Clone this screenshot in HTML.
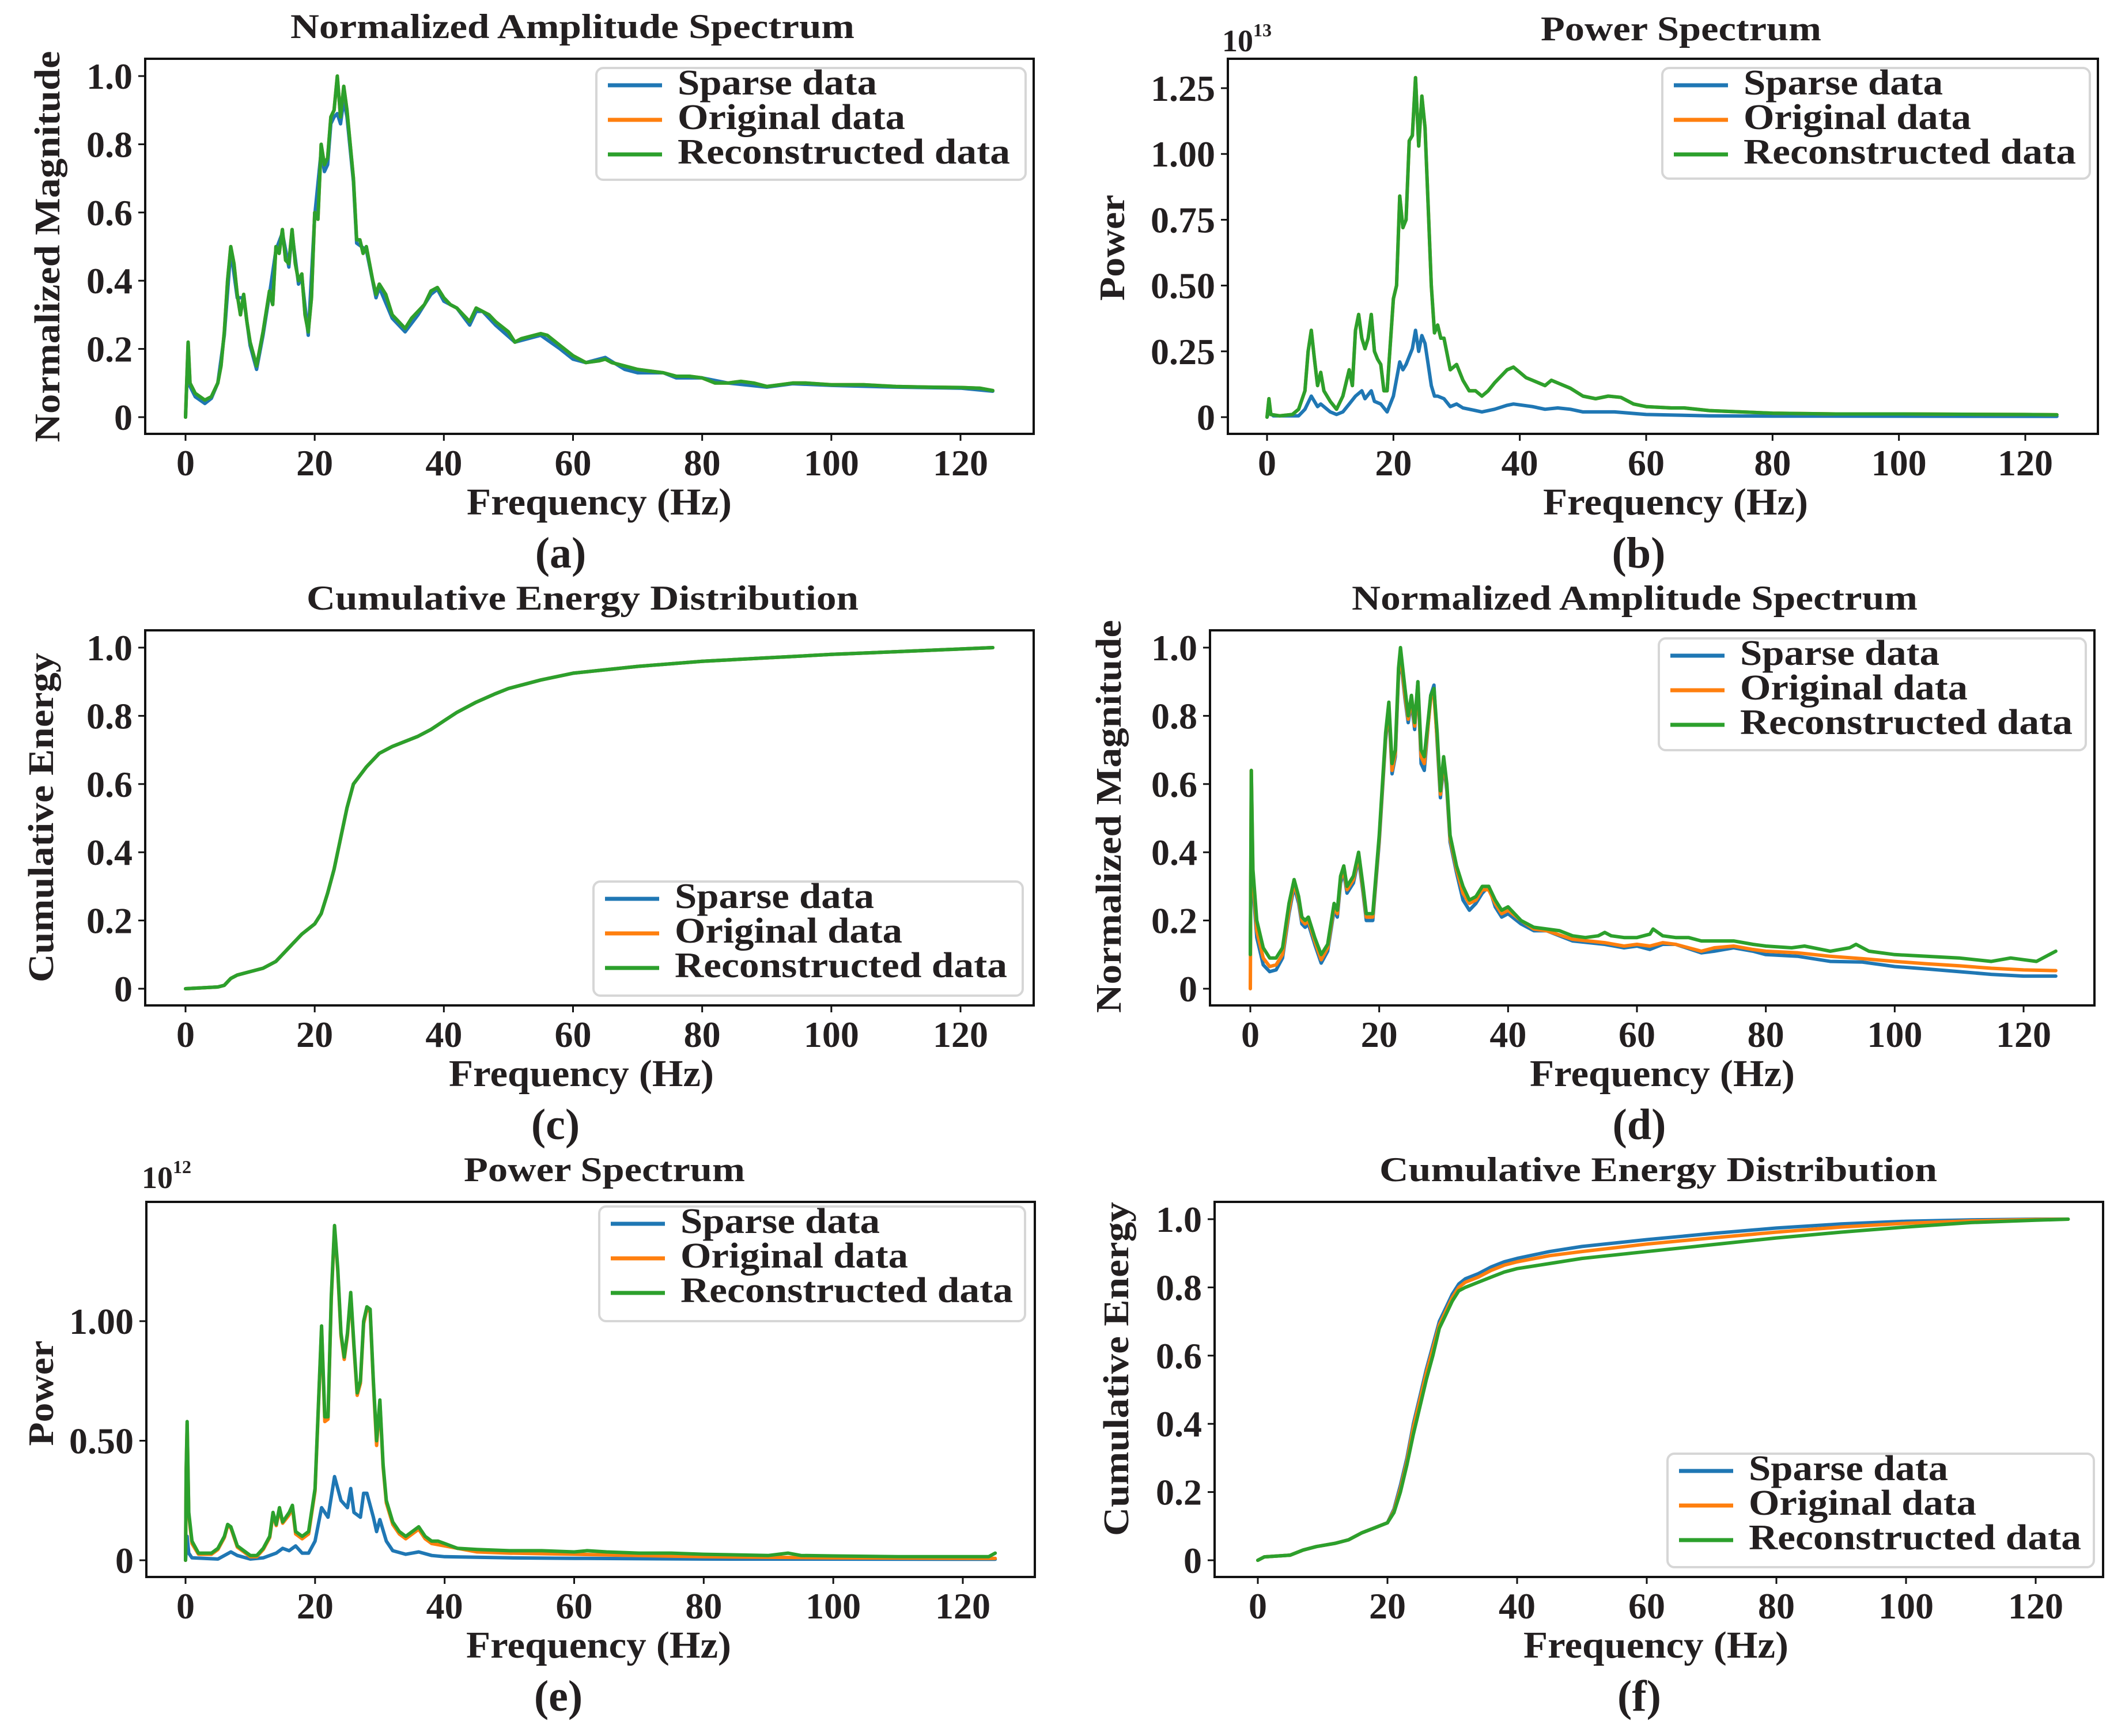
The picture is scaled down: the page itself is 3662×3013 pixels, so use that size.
<!DOCTYPE html>
<html><head><meta charset="utf-8"><title>Spectrum panels</title>
<style>
html,body{margin:0;padding:0;background:#fff;}
svg text{font-family:"Liberation Serif",serif;font-weight:bold;fill:#231f20;}
</style></head>
<body>
<svg id="fig" xmlns="http://www.w3.org/2000/svg" width="3662" height="3008" viewBox="0 0 3662 3008">
<rect x="0" y="0" width="3662" height="3008" fill="#fff"/>
</svg>
<script>
// ---------- data (frequency Hz, value) ----------
const aRecon = [[0,0],[0.2,0.11],[0.4,0.22],[0.7,0.1],[1.5,0.07],[3,0.05],[4,0.06],[5,0.1],[5.5,0.15],[6,0.25],[6.5,0.4],[7,0.5],[7.5,0.45],[8,0.36],[8.5,0.3],[9,0.36],[9.5,0.28],[10,0.22],[11,0.15],[11.5,0.2],[12,0.25],[13,0.37],[13.5,0.33],[14,0.5],[14.5,0.48],[15,0.55],[15.5,0.46],[16,0.45],[16.5,0.55],[17,0.45],[17.5,0.4],[18,0.42],[18.5,0.3],[19,0.25],[19.5,0.35],[20,0.6],[20.5,0.58],[21,0.8],[21.5,0.74],[22,0.76],[22.5,0.88],[23,0.9],[23.5,1.0],[24,0.88],[24.5,0.97],[25,0.9],[26,0.7],[26.5,0.52],[27,0.52],[27.5,0.48],[28,0.5],[28.5,0.45],[29,0.4],[29.5,0.36],[30,0.39],[31,0.36],[32,0.3],[33,0.28],[34,0.26],[35,0.29],[36,0.31],[37,0.33],[38,0.37],[39,0.38],[40,0.35],[41,0.33],[42,0.32],[43,0.3],[44,0.28],[45,0.32],[46,0.31],[47,0.3],[48,0.28],[50,0.25],[51,0.22],[52,0.23],[54,0.24],[55,0.245],[56,0.24],[58,0.21],[60,0.18],[62,0.16],[64,0.165],[65,0.17],[66,0.16],[68,0.15],[70,0.14],[72,0.135],[74,0.13],[76,0.12],[78,0.12],[80,0.115],[82,0.1],[84,0.1],[86,0.105],[88,0.1],[90,0.09],[92,0.095],[94,0.1],[96,0.1],[100,0.095],[105,0.095],[110,0.09],[115,0.088],[120,0.087],[123,0.085],[125,0.078]];
const aSparse = [[0,0],[0.2,0.1],[0.4,0.21],[0.7,0.09],[1.5,0.06],[3,0.04],[4,0.055],[5,0.1],[6,0.24],[7,0.49],[8,0.35],[9,0.35],[10,0.21],[11,0.14],[12,0.24],[13,0.36],[14,0.49],[15,0.54],[16,0.44],[16.5,0.54],[17.5,0.39],[18,0.41],[19,0.24],[20,0.59],[21,0.78],[21.5,0.72],[22,0.74],[22.5,0.86],[23,0.88],[23.5,0.89],[24,0.86],[24.5,0.93],[25,0.88],[26,0.69],[26.5,0.51],[28,0.49],[29.5,0.35],[30,0.38],[32,0.29],[34,0.25],[36,0.3],[38,0.36],[39,0.375],[40,0.34],[42,0.32],[44,0.27],[45,0.31],[46,0.31],[48,0.27],[51,0.22],[55,0.24],[58,0.2],[60,0.17],[62,0.16],[65,0.175],[68,0.14],[70,0.13],[74,0.13],[76,0.115],[80,0.115],[84,0.1],[90,0.088],[94,0.098],[100,0.093],[110,0.088],[120,0.085],[125,0.076]];
const aOriginal = aRecon;

const bRecon = [[0,0],[0.3,0.07],[0.6,0.01],[2,0.005],[4,0.01],[5,0.03],[6,0.1],[6.5,0.25],[7,0.33],[7.5,0.22],[8,0.12],[8.5,0.17],[9,0.1],[10,0.06],[11,0.03],[12,0.08],[13,0.18],[13.5,0.12],[14,0.33],[14.5,0.39],[15,0.3],[15.5,0.26],[16,0.3],[16.5,0.39],[17,0.25],[17.5,0.22],[18,0.2],[18.5,0.1],[19,0.1],[20,0.45],[20.5,0.5],[21,0.84],[21.5,0.72],[22,0.75],[22.5,1.05],[23,1.07],[23.5,1.29],[24,1.03],[24.5,1.22],[25,1.1],[25.5,0.8],[26,0.5],[26.5,0.32],[27,0.35],[27.5,0.3],[28,0.3],[29,0.18],[30,0.2],[31,0.14],[32,0.1],[33,0.1],[34,0.08],[35,0.1],[36,0.13],[38,0.18],[39,0.19],[40,0.17],[41,0.15],[42,0.14],[44,0.12],[45,0.14],[46,0.13],[48,0.11],[50,0.08],[52,0.07],[54,0.08],[56,0.075],[58,0.05],[60,0.04],[64,0.035],[66,0.035],[70,0.025],[75,0.02],[80,0.015],[90,0.012],[100,0.012],[110,0.011],[120,0.01],[125,0.009]];
const bSparse = [[0,0],[0.3,0.02],[1,0.005],[5,0.005],[6,0.03],[7,0.08],[8,0.04],[8.5,0.05],[10,0.02],[11,0.01],[12,0.02],[13,0.05],[14,0.08],[15,0.1],[15.5,0.07],[16.5,0.1],[17,0.06],[18,0.05],[19,0.02],[20,0.08],[21,0.21],[21.5,0.18],[22,0.2],[23,0.26],[23.5,0.33],[24,0.25],[24.5,0.31],[25,0.28],[25.5,0.2],[26,0.12],[26.5,0.08],[27,0.08],[28,0.07],[29,0.04],[30,0.05],[31,0.035],[33,0.025],[34,0.02],[36,0.03],[38,0.045],[39,0.05],[42,0.04],[44,0.03],[46,0.035],[48,0.03],[50,0.02],[55,0.02],[60,0.01],[70,0.005],[80,0.004],[125,0.003]];
const bOriginal = bRecon;

const cRecon = [[0,0],[5,0.005],[6,0.01],[7,0.03],[8,0.04],[10,0.05],[12,0.06],[14,0.08],[16,0.12],[18,0.16],[20,0.19],[21,0.22],[22,0.28],[23,0.35],[24,0.44],[25,0.53],[26,0.6],[28,0.65],[30,0.69],[32,0.71],[34,0.725],[36,0.74],[38,0.76],[40,0.785],[42,0.81],[45,0.84],[48,0.865],[50,0.88],[55,0.905],[60,0.925],[65,0.935],[70,0.945],[80,0.96],[90,0.97],[100,0.98],[110,0.988],[120,0.996],[125,1.0]];
const cSparse = cRecon;
const cOriginal = cRecon;

const dRecon = [[0,0.1],[0.15,0.64],[0.4,0.35],[1,0.2],[2,0.12],[3,0.09],[4,0.09],[5,0.12],[6,0.25],[6.8,0.32],[7.5,0.27],[8,0.21],[8.5,0.2],[9,0.21],[10,0.15],[11,0.1],[12,0.13],[13,0.25],[13.5,0.23],[14,0.33],[14.5,0.36],[15,0.3],[16,0.33],[16.8,0.4],[17.5,0.3],[18,0.22],[19,0.22],[20,0.45],[21,0.75],[21.5,0.84],[22,0.66],[22.5,0.7],[23,0.94],[23.3,1.0],[24,0.88],[24.5,0.8],[25,0.86],[25.5,0.78],[26,0.9],[26.5,0.7],[27,0.68],[28,0.86],[28.5,0.88],[29,0.75],[29.5,0.58],[30,0.68],[30.5,0.6],[31,0.45],[32,0.36],[33,0.3],[34,0.26],[35,0.27],[36,0.3],[37,0.3],[38,0.26],[39,0.23],[40,0.24],[42,0.2],[44,0.18],[46,0.175],[48,0.17],[50,0.155],[52,0.15],[54,0.155],[55,0.165],[56,0.155],[58,0.15],[60,0.15],[62,0.16],[62.5,0.175],[64,0.155],[66,0.15],[68,0.15],[70,0.14],[72,0.14],[75,0.14],[78,0.13],[80,0.125],[84,0.12],[86,0.125],[90,0.11],[93,0.12],[94,0.13],[96,0.11],[100,0.1],[105,0.095],[110,0.09],[115,0.08],[118,0.09],[120,0.085],[122,0.08],[124,0.1],[125,0.11]];
const dOriginal = [[0,0],[0.15,0.64],[0.4,0.33],[1,0.17],[2,0.09],[3,0.065],[4,0.07],[5,0.1],[6,0.23],[6.8,0.31],[7.5,0.26],[8,0.2],[8.5,0.19],[9,0.2],[10,0.14],[11,0.085],[12,0.12],[13,0.24],[13.5,0.22],[14,0.32],[14.5,0.35],[15,0.29],[16,0.32],[16.8,0.39],[17.5,0.29],[18,0.21],[19,0.21],[20,0.44],[21,0.74],[21.5,0.83],[22,0.64],[22.5,0.69],[23,0.93],[23.3,0.98],[24,0.86],[24.5,0.79],[25,0.85],[25.5,0.77],[26,0.89],[26.5,0.68],[27,0.66],[28,0.85],[28.5,0.86],[29,0.73],[29.5,0.57],[30,0.67],[30.5,0.59],[31,0.44],[32,0.35],[33,0.28],[34,0.25],[35,0.26],[36,0.29],[37,0.29],[38,0.25],[39,0.22],[40,0.23],[42,0.2],[44,0.175],[46,0.17],[50,0.145],[55,0.135],[58,0.125],[60,0.13],[62,0.125],[64,0.135],[66,0.13],[70,0.11],[72,0.12],[75,0.125],[78,0.115],[80,0.11],[85,0.105],[90,0.095],[95,0.088],[100,0.08],[105,0.073],[110,0.067],[115,0.06],[120,0.055],[125,0.053]];
const dSparse = [[0,0.1],[0.15,0.52],[0.4,0.3],[1,0.15],[2,0.07],[3,0.05],[4,0.055],[5,0.09],[6,0.22],[6.8,0.3],[7.5,0.25],[8,0.19],[8.5,0.18],[9,0.19],[10,0.13],[11,0.075],[12,0.11],[13,0.23],[13.5,0.21],[14,0.31],[14.5,0.34],[15,0.28],[16,0.31],[16.8,0.38],[17.5,0.28],[18,0.2],[19,0.2],[20,0.43],[21,0.73],[21.5,0.82],[22,0.63],[22.5,0.68],[23,0.92],[23.3,0.97],[24,0.85],[24.5,0.78],[25,0.84],[25.5,0.76],[26,0.9],[26.5,0.66],[27,0.64],[28,0.86],[28.5,0.89],[29,0.72],[29.5,0.56],[30,0.66],[30.5,0.58],[31,0.43],[32,0.34],[33,0.26],[34,0.23],[35,0.25],[36,0.28],[37,0.3],[38,0.24],[39,0.21],[40,0.22],[42,0.19],[44,0.17],[46,0.17],[50,0.14],[55,0.13],[58,0.12],[60,0.125],[62,0.115],[64,0.13],[66,0.13],[70,0.105],[72,0.11],[75,0.12],[78,0.11],[80,0.1],[85,0.095],[90,0.08],[95,0.078],[100,0.065],[105,0.058],[110,0.05],[115,0.042],[120,0.037],[125,0.037]];

const eRecon = [[0,0],[0.1,0.38],[0.25,0.58],[0.5,0.2],[1,0.08],[2,0.03],[4,0.03],[5,0.05],[6,0.1],[6.5,0.15],[7,0.14],[8,0.06],[9,0.04],[10,0.02],[11,0.02],[12,0.05],[13,0.1],[13.5,0.2],[14,0.15],[14.5,0.22],[15,0.16],[16,0.2],[16.5,0.23],[17,0.12],[18,0.1],[19,0.12],[20,0.3],[21,0.98],[21.5,0.6],[22,0.6],[22.5,1.1],[23,1.4],[23.5,1.22],[24,0.95],[24.5,0.85],[25,0.95],[25.5,1.12],[26,0.9],[26.5,0.7],[27,0.75],[27.5,1.0],[28,1.06],[28.5,1.05],[29,0.75],[29.5,0.5],[30,0.67],[30.5,0.4],[31,0.25],[32,0.16],[33,0.12],[34,0.1],[35,0.12],[36,0.14],[37,0.1],[38,0.08],[39,0.08],[40,0.07],[42,0.05],[45,0.045],[50,0.04],[55,0.04],[60,0.035],[62,0.04],[65,0.035],[70,0.03],[75,0.03],[80,0.025],[90,0.02],[93,0.03],[95,0.02],[100,0.018],[110,0.015],[120,0.015],[124,0.015],[125,0.03]];
const eOriginal = [[0,0],[0.1,0.37],[0.25,0.57],[0.5,0.19],[1,0.07],[2,0.025],[4,0.025],[5,0.045],[6,0.095],[6.5,0.145],[7,0.135],[8,0.055],[9,0.035],[10,0.015],[11,0.015],[12,0.045],[13,0.095],[13.5,0.19],[14,0.145],[14.5,0.21],[15,0.155],[16,0.19],[16.5,0.22],[17,0.11],[18,0.09],[19,0.11],[20,0.29],[21,0.97],[21.5,0.58],[22,0.59],[22.5,1.09],[23,1.39],[23.5,1.21],[24,0.94],[24.5,0.84],[25,0.94],[25.5,1.11],[26,0.89],[26.5,0.69],[27,0.74],[27.5,0.99],[28,1.05],[28.5,1.04],[29,0.74],[29.5,0.48],[30,0.66],[30.5,0.39],[31,0.24],[32,0.15],[33,0.11],[34,0.09],[35,0.11],[36,0.13],[37,0.09],[38,0.07],[40,0.06],[45,0.035],[50,0.03],[60,0.025],[70,0.02],[80,0.015],[100,0.01],[125,0.008]];
const eSparse = [[0,0],[0.25,0.1],[0.5,0.03],[1,0.01],[5,0.005],[6,0.02],[7,0.035],[8,0.02],[10,0.005],[12,0.01],[14,0.03],[15,0.05],[16,0.04],[17,0.06],[18,0.03],[19,0.03],[20,0.08],[21,0.22],[22,0.18],[23,0.35],[23.5,0.3],[24,0.25],[25,0.22],[25.5,0.3],[26,0.2],[27,0.18],[27.5,0.28],[28,0.28],[29,0.18],[29.5,0.12],[30,0.17],[31,0.08],[32,0.04],[34,0.025],[35,0.03],[36,0.035],[38,0.02],[40,0.015],[50,0.01],[60,0.008],[80,0.005],[125,0.004]];

const fSparse = [[0,0],[1,0.01],[5,0.015],[7,0.03],[9,0.04],[12,0.05],[14,0.06],[16,0.08],[18,0.095],[20,0.11],[21,0.15],[22,0.22],[23,0.3],[24,0.4],[25,0.48],[26,0.56],[27,0.63],[28,0.7],[29,0.74],[30,0.78],[31,0.81],[32,0.825],[34,0.84],[36,0.86],[38,0.875],[40,0.885],[45,0.905],[50,0.92],[60,0.94],[70,0.958],[80,0.974],[90,0.986],[100,0.994],[110,0.998],[120,1.0],[125,1.0]];
const fOriginal = [[0,0],[1,0.01],[5,0.015],[7,0.03],[9,0.04],[12,0.05],[14,0.06],[16,0.08],[18,0.095],[20,0.11],[21,0.145],[22,0.21],[23,0.29],[24,0.39],[25,0.47],[26,0.55],[27,0.62],[28,0.69],[29,0.73],[30,0.77],[31,0.8],[32,0.815],[34,0.83],[36,0.85],[38,0.865],[40,0.875],[45,0.893],[50,0.905],[60,0.927],[70,0.945],[80,0.962],[90,0.977],[100,0.988],[110,0.995],[120,0.999],[125,1.0]];
const fRecon = [[0,0],[1,0.01],[5,0.015],[7,0.03],[9,0.04],[12,0.05],[14,0.06],[16,0.08],[18,0.095],[20,0.11],[21,0.14],[22,0.2],[23,0.28],[24,0.37],[25,0.45],[26,0.53],[27,0.6],[28,0.68],[29,0.72],[30,0.76],[31,0.79],[32,0.8],[34,0.815],[36,0.83],[38,0.845],[40,0.855],[45,0.87],[50,0.885],[60,0.905],[70,0.925],[80,0.945],[90,0.962],[100,0.977],[110,0.99],[120,0.997],[125,1.0]];

const xTicks = [0,20,40,60,80,100,120];
const yTicksUnit = [0,0.2,0.4,0.6,0.8,1.0];
const yLabelsUnit = ["0","0.2","0.4","0.6","0.8","1.0"];
const yTicksB = [0,0.25,0.5,0.75,1.0,1.25];
const yLabelsB = ["0","0.25","0.50","0.75","1.00","1.25"];
const yTicksE = [0,0.5,1.0];
const yLabelsE = ["0","0.50","1.00"];
const legendNames = ["Sparse data","Original data","Reconstructed data"];

// ---------- drawing ----------
const NS = "http://www.w3.org/2000/svg";
const svg = document.getElementById('fig');
const COLORS = ["#1f77b4","#ff7f0e","#2ca02c"];

function mk(tag, attrs, parent, name, txt) {
  const el = document.createElementNS(NS, tag);
  for (const k in attrs) el.setAttribute(k, attrs[k]);
  
  
  if (txt !== undefined) el.textContent = txt;
  parent.appendChild(el);
  return el;
}

const panels = [
 {id:'a', L:252,R:1794,T:102, x0:322,x120:1667, topPx:132, topVal:1.0, yt:yTicksUnit, yl:yLabelsUnit,
  series:[aSparse,aOriginal,aRecon], title:"Normalized Amplitude Spectrum", tx:504, tw:979, tb:66,
  ylab:"Normalized Magnitude", ylx:103, ylc:428, ylw:679, xlc:1040, sub:"(a)", subx:973,
  leg:[1035,118,1780,312]},
 {id:'b', L:2131,R:3641,T:102, x0:2199,x120:3515, topPx:153, topVal:1.25, yt:yTicksB, yl:yLabelsB,
  series:[bSparse,bOriginal,bRecon], title:"Power Spectrum", tx:2674, tw:487, tb:70,
  ylab:"Power", ylx:1951, ylc:430, ylw:184, xlc:2908, sub:"(b)", subx:2844,
  leg:[2885,118,3627,310], exp:["10","13",2121,89]},
 {id:'c', L:252,R:1794,T:1094, x0:322,x120:1667, topPx:1124, topVal:1.0, yt:yTicksUnit, yl:yLabelsUnit,
  series:[cSparse,cOriginal,cRecon], title:"Cumulative Energy Distribution", tx:532, tw:958, tb:1058,
  ylab:"Cumulative Energy", ylx:92, ylc:1419, ylw:572, xlc:1009, sub:"(c)", subx:964,
  leg:[1030,1530,1775,1728]},
 {id:'d', L:2100,R:3635,T:1094, x0:2170,x120:3512, topPx:1124, topVal:1.0, yt:yTicksUnit, yl:yLabelsUnit,
  series:[dSparse,dOriginal,dRecon], title:"Normalized Amplitude Spectrum", tx:2346, tw:982, tb:1058,
  ylab:"Normalized Magnitude", ylx:1945, ylc:1417, ylw:682, xlc:2885, sub:"(d)", subx:2845,
  leg:[2879,1108,3620,1302]},
 {id:'e', L:254,R:1796,T:2086, x0:322,x120:1671, topPx:2293, topVal:1.0, yt:yTicksE, yl:yLabelsE,
  series:[eSparse,eOriginal,eRecon], title:"Power Spectrum", tx:805, tw:488, tb:2050,
  ylab:"Power", ylx:92, ylc:2418, ylw:183, xlc:1039, sub:"(e)", subx:969,
  leg:[1040,2094,1779,2293], exp:["10","12",246,2062]},
 {id:'f', L:2108,R:3650,T:2086, x0:2183,x120:3533, topPx:2116, topVal:1.0, yt:yTicksUnit, yl:yLabelsUnit,
  series:[fSparse,fOriginal,fRecon], title:"Cumulative Energy Distribution", tx:2394, tw:968, tb:2050,
  ylab:"Cumulative Energy", ylx:1958, ylc:2376, ylw:580, xlc:2874, sub:"(f)", subx:2845,
  leg:[2894,2523,3634,2720]}
];

panels.forEach(p => {
  const g = mk('g', {}, svg, 'panel-' + p.id);
  const B = p.T + 651;
  const y0 = p.T + 622;
  const sx = f => p.x0 + f * (p.x120 - p.x0) / 120;
  const sy = v => y0 - v * (y0 - p.topPx) / p.topVal;

  const names = ['sparse-line','original-line','reconstructed-line'];
  p.series.forEach((s, i) => {
    const d = s.map((pt, k) => (k ? 'L' : 'M') + sx(pt[0]).toFixed(1) + ' ' + sy(pt[1]).toFixed(1)).join(' ');
    mk('path', {d:d, fill:'none', stroke:COLORS[i], 'stroke-width':6, 'stroke-linejoin':'round', 'stroke-linecap':'round'}, g, names[i] + '-' + p.id);
  });

  mk('rect', {x:p.L, y:p.T, width:p.R - p.L, height:B - p.T, fill:'none', stroke:'#111', 'stroke-width':4}, g, 'plot-frame-' + p.id);

  xTicks.forEach(t => {
    const x = sx(t);
    mk('line', {x1:x, y1:B, x2:x, y2:B + 12, stroke:'#111', 'stroke-width':3}, g, 'x-tick-' + p.id);
    mk('text', {x:x, y:p.T + 723, 'font-size':64, 'text-anchor':'middle'}, g, 'x-tick-label-' + p.id, String(t));
  });
  p.yt.forEach((t, i) => {
    const y = sy(t);
    mk('line', {x1:p.L - 12, y1:y, x2:p.L, y2:y, stroke:'#111', 'stroke-width':3}, g, 'y-tick-' + p.id);
    mk('text', {x:p.L - 22, y:y + 22, 'font-size':64, 'text-anchor':'end'}, g, 'y-tick-label-' + p.id, p.yl[i]);
  });

  mk('text', {x:p.tx, y:p.tb, 'font-size':60, textLength:p.tw, lengthAdjust:'spacingAndGlyphs'}, g, 'chart-title-' + p.id, p.title);
  mk('text', {x:p.xlc, y:p.T + 791, 'font-size':66, 'text-anchor':'middle', textLength:460, lengthAdjust:'spacingAndGlyphs'}, g, 'x-axis-title-' + p.id, 'Frequency (Hz)');
  mk('text', {x:p.subx, y:p.T + 883, 'font-size':76, 'text-anchor':'middle'}, g, 'panel-label-' + p.id, p.sub);
  mk('text', {x:0, y:0, 'font-size':62, 'text-anchor':'middle', textLength:p.ylw, lengthAdjust:'spacingAndGlyphs',
     transform:'translate(' + p.ylx + ',' + p.ylc + ') rotate(-90)'}, g, 'y-axis-title-' + p.id, p.ylab);
  if (p.exp) {
    const t = mk('text', {x:p.exp[2], y:p.exp[3], 'font-size':54, 'font-weight':'normal'}, g, 'y-axis-offset-' + p.id, p.exp[0]);
    mk('tspan', {dy:-26, 'font-size':32}, t, 'y-axis-exponent-' + p.id, p.exp[1]);
  }

  const [lx1, ly1, lx2, ly2] = p.leg;
  const lg = mk('g', {}, g, 'legend-' + p.id);
  mk('rect', {x:lx1, y:ly1, width:lx2 - lx1, height:ly2 - ly1, rx:12, fill:'#fff', 'fill-opacity':0.85, stroke:'#d6d6d6', 'stroke-width':4}, lg, 'legend-box-' + p.id);
  const widths = [346, 395, 577];
  legendNames.forEach((n, i) => {
    const ly = ly1 + 30 + i * 60;
    mk('line', {x1:lx1 + 20, y1:ly, x2:lx1 + 114, y2:ly, stroke:COLORS[i], 'stroke-width':7}, lg, 'legend-swatch-' + p.id);
    mk('text', {x:lx1 + 141, y:ly + 16, 'font-size':62, textLength:widths[i], lengthAdjust:'spacingAndGlyphs'}, lg, 'legend-entry-' + p.id, n);
  });
});
</script>
</body></html>
